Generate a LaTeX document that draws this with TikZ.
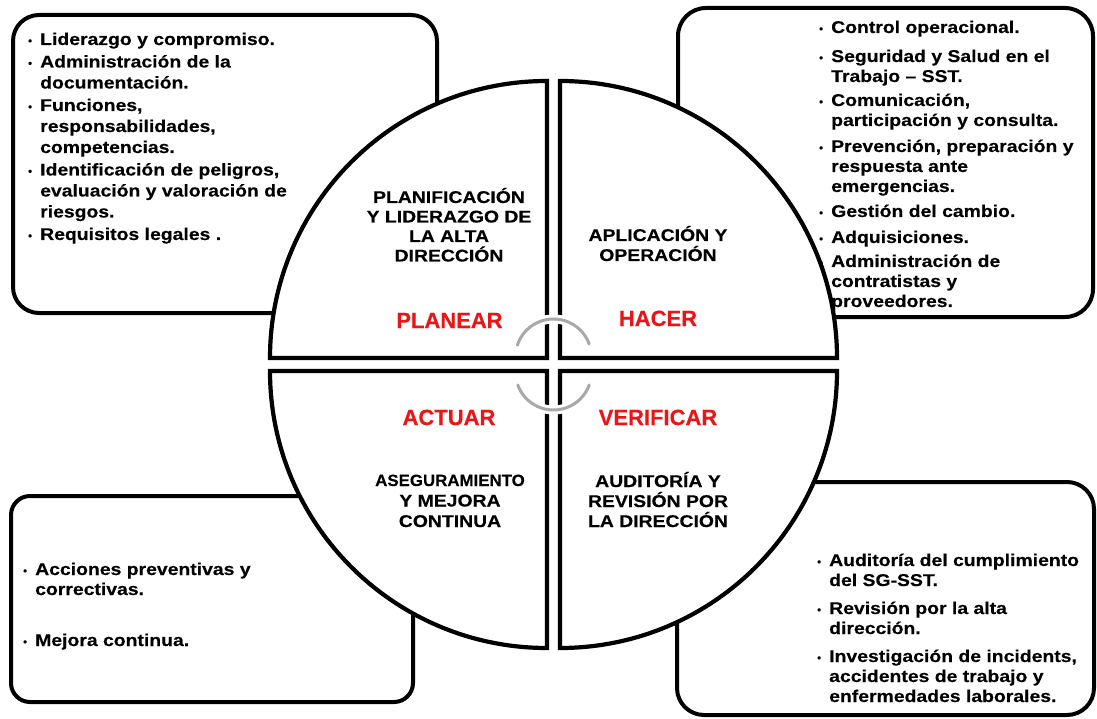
\documentclass[tikz,border=0pt]{standalone}
\usepackage{fontspec}
\setmainfont{Liberation Sans}
\newfontfamily\bodyfont{Liberation Sans}[FakeStretch=1.14,FakeBold=0.3]
\newfontfamily\lblfont{Liberation Sans}[FakeBold=0.3]
\definecolor{lblred}{RGB}{232,22,22}
\definecolor{arcgray}{RGB}{168,168,168}
\newlength\bulw \setlength\bulw{12pt}
\newcommand{\bulg}{\raisebox{0.5pt}{\lblfont\bfseries\fontsize{11}{11}\selectfont •}}
\newcommand{\bi}[1]{\hbox{\makebox[\bulw][l]{\bulg}#1}}
\newcommand{\ci}[1]{\hbox{\hspace*{\bulw}#1}}
\newcommand{\cl}[1]{\hbox to 240pt{\hss#1\hss}}
\begin{document}
\begin{tikzpicture}[x=1pt,y=1pt,
  box/.style={draw=black, line width=4pt, fill=white},
  quad/.style={draw=black, line width=4.2pt, fill=white, line join=miter},
  txt/.style={anchor=base west, inner sep=0pt, font=\bodyfont\bfseries\fontsize{17}{20}\selectfont},
  head/.style={anchor=base, inner sep=0pt, font=\bodyfont\bfseries\fontsize{17}{20}\selectfont},
  lbl/.style={anchor=base, inner sep=0pt, text=lblred, font=\lblfont\bfseries\fontsize{22}{24}\selectfont},
  cyc/.style={draw=arcgray, line width=3pt, line cap=round, preaction={draw=white, line width=9pt, line cap=butt}}
]
\useasboundingbox (0,0) rectangle (1097,-719);
\fill[white] (0,0) rectangle (1097,-719);

% side boxes
\draw[box, rounded corners=26pt] (13,-15) rectangle (437,-313);
\draw[box, rounded corners=28pt] (678,-8) rectangle (1093,-317);
\draw[box, rounded corners=19pt] (11,-496) rectangle (413,-702);
\draw[box, rounded corners=27pt] (677,-482) rectangle (1094,-715);

% box texts
\node[txt] (tlt) at (28,-45) {\vtop{\baselineskip=21pt
  \bi{Liderazgo y compromiso.}\vskip1.5pt
  \bi{Administración de la}\ci{documentación.}\vskip1.5pt
  \bi{Funciones,}\ci{responsabilidades,}\ci{competencias.}\vskip1.5pt
  \bi{Identificación de peligros,}\ci{evaluación y valoración de}\ci{riesgos.}\vskip1.5pt
  \bi{Requisitos legales .}}};

\node[txt] (trt) at (819,-33) {\vtop{\baselineskip=20pt
  \bi{Control operacional.}\vskip9pt
  \bi{Seguridad y Salud en el}\ci{Trabajo – SST.}\vskip4pt
  \bi{Comunicación,}\ci{participación y consulta.}\vskip6pt
  \bi{Prevención, preparación y}\ci{respuesta ante}\ci{emergencias.}\vskip5pt
  \bi{Gestión del cambio.}\vskip6pt
  \bi{Adquisiciones.}\vskip4pt
  \bi{Administración de}\ci{contratistas y}\ci{proveedores.}}};

\node[txt] (blt) at (23,-575) {\vtop{\baselineskip=20pt
  \bi{Acciones preventivas y}\ci{correctivas.}\vskip31pt
  \bi{Mejora continua.}}};

\node[txt] (brt) at (817,-566) {\vtop{\baselineskip=20pt
  \bi{Auditoría del cumplimiento}\ci{del SG-SST.}\vskip8pt
  \bi{Revisión por la alta}\ci{dirección.}\vskip8pt
  \bi{Investigación de incidents,}\ci{accidentes de trabajo y}\ci{enfermedades laborales.}}};

% quadrants
\draw[quad] (547,-358) -- (270,-358) arc[start angle=180, end angle=90, radius=277] -- cycle;
\draw[quad] (560,-358) -- (560,-81) arc[start angle=90, end angle=0, radius=277] -- cycle;
\draw[quad] (547,-371) -- (547,-648) arc[start angle=270, end angle=180, radius=277] -- cycle;
\draw[quad] (560,-371) -- (837,-371) arc[start angle=0, end angle=-90, radius=277] -- cycle;

% quadrant headings
\node[head] (plan) at (449,-203) {\vtop{\baselineskip=19.5pt
  \cl{PLANIFICACIÓN}\cl{Y LIDERAZGO DE}\cl{LA ALTA}\cl{DIRECCIÓN}}};
\node[head] (apl) at (658,-241) {\vtop{\baselineskip=20pt
  \cl{APLICACIÓN Y}\cl{OPERACIÓN}}};
\node[head] (ase) at (450,-486) {\vtop{\baselineskip=20.5pt
  \cl{\scalebox{0.87}[0.96]{ASEGURAMIENTO}}\cl{Y MEJORA}\cl{CONTINUA}}};
\node[head] (aud) at (658,-487) {\vtop{\baselineskip=20pt
  \cl{AUDITORÍA Y}\cl{REVISIÓN POR}\cl{LA DIRECCIÓN}}};

% red labels
\node[lbl] (planear) at (449.5,-328) {PLANEAR};
\node[lbl] (hacer) at (658,-326) {HACER};
\node[lbl] (actuar) at (449,-425) {ACTUAR};
\node[lbl] (verificar) at (658,-425) {VERIFICAR};

% cycle arcs
\coordinate (cu) at (553.5,-357);
\coordinate (cd) at (553.5,-372);
\draw[cyc] (cu) ++(162:38) arc[start angle=162, end angle=20, radius=38];
\draw[cyc] (cd) ++(200:38) arc[start angle=200, end angle=340, radius=38];
\end{tikzpicture}
\end{document}
